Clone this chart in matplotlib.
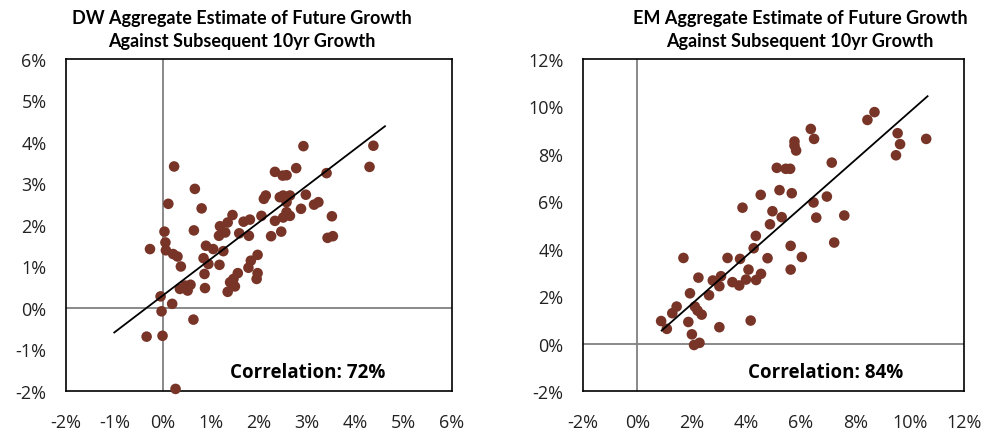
import numpy as np
import matplotlib
matplotlib.use("Agg")
import matplotlib.pyplot as plt
from matplotlib.ticker import FuncFormatter

# DW panel: aggregate estimate (x) vs subsequent 10yr growth (y), in %
dw_x = [0.24, 2.92, 4.37, 4.29, 2.33, 2.49, 2.57, 2.77, 3.40, 0.67, 0.12, 0.81, 2.97,
        2.10, 2.14, 2.43, 2.50, 2.64, 2.57, 2.57, 2.64, 2.50, 2.87, 3.14, 3.23, 3.51,
        3.42, 3.53, 2.33, 2.05, 1.81, 1.68, 1.45, 1.35, 1.19, 1.17, 1.30, 1.59, 1.79,
        2.25, 2.46, 0.04, 0.65, -0.26, 0.06, 0.07, 0.22, 0.31, 0.38, 0.90, 1.05, 1.26,
        0.85, 0.95, 1.18, 1.97, 1.83, 1.78, 1.56, 1.97, 1.95, 0.87, 1.40, 1.47, 1.50,
        1.35, 0.36, 0.47, 0.58, 0.52, 0.88, -0.04, 0.20, -0.02, 0.64, -0.33, 0.00, 0.27]
dw_y = [3.41, 3.90, 3.91, 3.40, 3.28, 3.19, 3.20, 3.37, 3.25, 2.87, 2.51, 2.40, 2.73,
        2.63, 2.71, 2.67, 2.71, 2.71, 2.55, 2.31, 2.22, 2.18, 2.39, 2.49, 2.55, 2.21,
        1.69, 1.73, 2.10, 2.22, 2.13, 2.08, 2.24, 2.06, 1.97, 1.74, 1.82, 1.80, 1.74,
        1.73, 1.84, 1.84, 1.87, 1.42, 1.58, 1.39, 1.30, 1.24, 1.00, 1.50, 1.42, 1.37,
        1.20, 1.06, 1.04, 1.28, 1.14, 0.97, 0.84, 0.84, 0.70, 0.82, 0.62, 0.70, 0.52,
        0.39, 0.46, 0.54, 0.56, 0.42, 0.48, 0.28, 0.10, -0.08, -0.28, -0.69, -0.67, -1.95]
dw_trend_x = [-1.0, 4.61]
dw_trend_y = [-0.59, 4.38]

# EM panel
em_x = [8.71, 8.45, 6.37, 6.49, 5.77, 5.77, 5.83, 9.56, 9.65, 9.50, 10.61, 7.14, 5.12,
        5.45, 5.61, 4.53, 5.22, 5.67, 3.86, 6.96, 6.47, 4.96, 5.30, 4.87, 6.57, 7.60,
        4.35, 4.27, 3.77, 3.31, 4.78, 5.63, 7.23, 6.04, 5.63, 1.69, 4.08, 4.54, 4.36,
        3.99, 3.74, 3.49, 3.07, 2.77, 3.01, 2.24, 1.93, 2.63, 1.44, 1.28, 0.87, 1.08,
        2.11, 2.21, 2.36, 1.87, 2.00, 2.08, 2.28, 3.01, 4.16]
em_y = [9.76, 9.43, 9.05, 8.63, 8.52, 8.35, 8.14, 8.87, 8.41, 7.94, 8.63, 7.63, 7.41,
        7.37, 7.37, 6.27, 6.47, 6.34, 5.73, 6.20, 5.95, 5.58, 5.33, 5.03, 5.31, 5.40,
        4.54, 4.02, 3.57, 3.61, 3.60, 4.12, 4.26, 3.65, 3.12, 3.61, 3.12, 2.94, 2.68,
        2.70, 2.45, 2.59, 2.84, 2.66, 2.42, 2.78, 2.12, 2.04, 1.56, 1.28, 0.95, 0.62,
        1.56, 1.39, 1.22, 0.91, 0.39, -0.06, 0.03, 0.69, 0.97]
em_trend_x = [0.89, 10.66]
em_trend_y = [0.55, 10.43]

titles = ["DW Aggregate Estimate of Future Growth\nAgainst Subsequent 10yr Growth",
          "EM Aggregate Estimate of Future Growth\nAgainst Subsequent 10yr Growth"]
corr_labels = ["Correlation: 72%", "Correlation: 84%"]

dot_color = "#773427"
pct = FuncFormatter(lambda v, p: "%d%%" % round(v))

fig = plt.figure(figsize=(9.84, 4.31), dpi=100)
ax1 = fig.add_axes([0.0671, 0.0905, 0.3923, 0.7703])
ax2 = fig.add_axes([0.5925, 0.0905, 0.3872, 0.7703])

panels = [
    (ax1, dw_x, dw_y, dw_trend_x, dw_trend_y, (-2, 6), (-2, 6), 1, 1, 0.826),
    (ax2, em_x, em_y, em_trend_x, em_trend_y, (-2, 12), (-2, 12), 2, 2, 0.840),
]
for i, (ax, x, y, tx, ty, xl, yl, xs, ys, cx) in enumerate(panels):
    ax.axhline(0, color="#808080", lw=1.3, zorder=1)
    ax.axvline(0, color="#808080", lw=1.3, zorder=1)
    ax.scatter(x, y, s=58, color=dot_color, edgecolors="none", zorder=3, clip_on=False)
    ax.plot(tx, ty, color="black", lw=1.3, zorder=4)
    ax.set_xlim(*xl)
    ax.set_ylim(*yl)
    ax.set_xticks(np.arange(xl[0], xl[1] + 0.1, xs))
    ax.set_yticks(np.arange(yl[0], yl[1] + 0.1, ys))
    ax.xaxis.set_major_formatter(pct)
    ax.yaxis.set_major_formatter(pct)
    ax.tick_params(length=0, labelsize=13, colors="#222222")
    ax.tick_params(axis="x", pad=16)
    ax.tick_params(axis="y", pad=14)
    for lab in ax.get_xticklabels() + ax.get_yticklabels():
        lab.set_family("Open Sans")
    for sp in ax.spines.values():
        sp.set_linewidth(1.2)
        sp.set_color("black")
    ax.text(cx, 0.057, corr_labels[i], transform=ax.transAxes, ha="right",
            va="center", fontsize=13.5, fontweight="bold", family="Open Sans")

fig.text(242 / 984, 1 - 30 / 431, titles[0], ha="center", va="center",
         fontsize=13, fontweight="bold", family="Lato", linespacing=1.45)
fig.text(800 / 984, 1 - 30 / 431, titles[1], ha="center", va="center",
         fontsize=13, fontweight="bold", family="Lato", linespacing=1.45)

fig.savefig("out.png", dpi=100)
